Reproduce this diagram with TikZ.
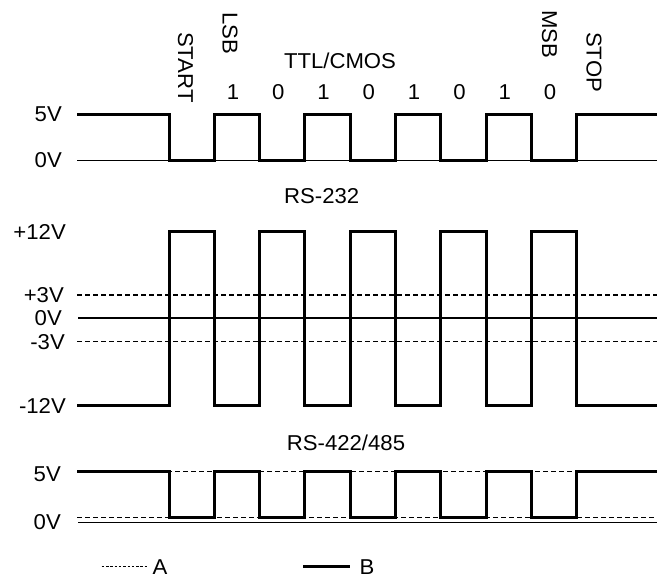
\documentclass[tikz,border=0pt]{standalone}
\usepackage{fontspec}
\setmainfont{Liberation Sans}[FakeStretch=1.03]
\begin{document}
\begin{tikzpicture}[x=1pt,y=-1pt,
  lbl/.style={inner sep=0pt,font=\fontsize{21.5}{24}\selectfont},
  ylbl/.style={lbl,anchor=east},
  vlbl/.style={lbl,anchor=west,rotate=-90},
  sig/.style={line width=3pt,line join=miter,line cap=butt},
  axis/.style={line width=1.3pt},
  dline/.style={line width=1.3pt,dash pattern=on 5pt off 3pt},
  fine/.style={line width=1.1pt,dash pattern=on 2.5pt off 1.8pt}]
\useasboundingbox (0,0) rectangle (657,579);

% ---------------- TTL/CMOS ----------------
\node[lbl] (ttl) at (340,60.5) {TTL/CMOS};
\node[vlbl] (start) at (185.5,32) {START};
\node[vlbl] (lsb) at (230,12) {LSB};
\node[vlbl] (msb) at (549.5,10) {MSB};
\node[vlbl] (stop) at (594,32) {STOP};
\foreach \b [count=\k] in {1,0,1,0,1,0,1,0}
  \node[lbl] (bit\k) at ({169+45.3*(\k+0.5)-4},91.7) {\b};
\node[ylbl] (t5) at (62,114) {5V};
\node[ylbl] (t0) at (62,160.5) {0V};
\draw[axis] (77,160.5) -- (657,160.5);
\draw[sig] (77,114)
  \foreach \i in {0,...,4} {
    -- ({169+90.6*\i},114) -- ({169+90.6*\i},160.5)
    -- ({214.3+90.6*\i},160.5) -- ({214.3+90.6*\i},114) }
  -- (657,114);

% ---------------- RS-232 ----------------
\node[lbl] (rs232) at (321.7,196) {RS-232};
\node[ylbl] (r12) at (66,231.7) {+12V};
\node[ylbl] (r3) at (64,295) {+3V};
\node[ylbl] (r0) at (62,318) {0V};
\node[ylbl] (rm3) at (65,341.7) {-3V};
\node[ylbl] (rm12) at (66,405.7) {-12V};
\draw[dline] (77,295) -- (657,295);
\draw[axis] (78,318) -- (657,318);
\draw[dline] (77,341.7) -- (657,341.7);
\draw[sig] (77,405.7)
  \foreach \i in {0,...,4} {
    -- ({169+90.6*\i},405.7) -- ({169+90.6*\i},231.7)
    -- ({214.3+90.6*\i},231.7) -- ({214.3+90.6*\i},405.7) }
  -- (657,405.7);

% ---------------- RS-422/485 ----------------
\node[lbl] (rs422) at (346,443) {RS-422/485};
\node[ylbl] (q5) at (61,474) {5V};
\node[ylbl] (q0) at (61,522) {0V};
\draw[axis] (78,522.3) -- (657,522.3);
\draw[dline] (77,517.7)
  \foreach \i in {0,...,4} {
    -- ({169+90.6*\i},517.7) -- ({169+90.6*\i},471.7)
    -- ({214.3+90.6*\i},471.7) -- ({214.3+90.6*\i},517.7) }
  -- (657,517.7);
\draw[sig] (77,471.7)
  \foreach \i in {0,...,4} {
    -- ({169+90.6*\i},471.7) -- ({169+90.6*\i},517.7)
    -- ({214.3+90.6*\i},517.7) -- ({214.3+90.6*\i},471.7) }
  -- (657,471.7);

% ---------------- legend ----------------
\coordinate (la1) at (101.7,566.7);
\coordinate (la2) at (146.7,566.7);
\coordinate (lb1) at (303,566.7);
\coordinate (lb2) at (350,566.7);
\draw[fine] (la1) -- (la2);
\node[lbl] (la) at (160,566.7) {A};
\draw[sig] (lb1) -- (lb2);
\node[lbl] (lb) at (367,566.7) {B};
\end{tikzpicture}
\end{document}
